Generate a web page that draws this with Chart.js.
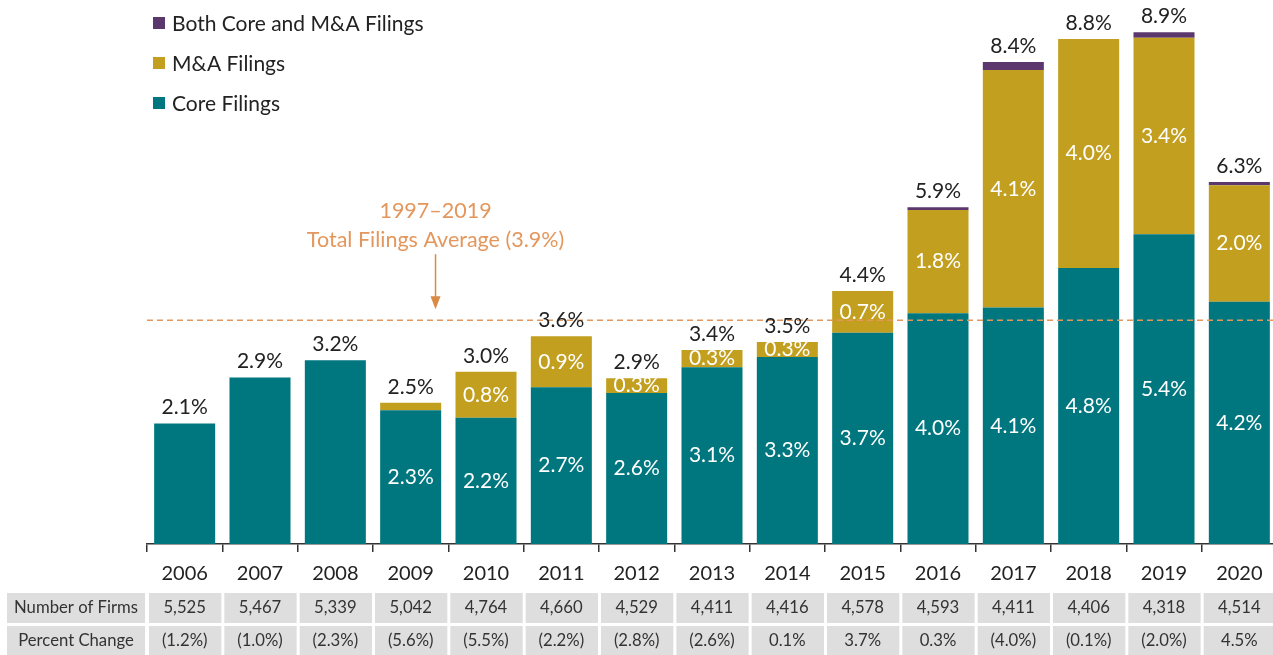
<!DOCTYPE html>
<html>
<head>
<meta charset="utf-8">
<script src="https://cdn.jsdelivr.net/npm/chart.js@4.4.1/dist/chart.umd.min.js"></script>
<style>
  html, body { margin: 0; padding: 0; background: #fff; overflow: hidden; }
  canvas { display: block; }
</style>
</head>
<body>
<canvas id="filingsChart" width="1277" height="655"></canvas>
<script>
// ======================================
// DATA
// ======================================
const years = ['2006', '2007', '2008', '2009', '2010', '2011', '2012', '2013', '2014', '2015', '2016', '2017', '2018', '2019', '2020'];

// Percent of firms with filings, by type
const coreFilings = [2.1, 2.9, 3.2, 2.33, 2.2, 2.73, 2.63, 3.08, 3.26, 3.68, 4.02, 4.12, 4.81, 5.40, 4.22];
const mnaFilings  = [0, 0, 0, 0.13, 0.8, 0.89, 0.26, 0.3, 0.26, 0.73, 1.80, 4.14, 3.99, 3.42, 2.03];
const bothFilings = [0, 0, 0, 0, 0, 0, 0, 0, 0, 0, 0.05, 0.14, 0, 0.10, 0.06];

const numberOfFirms = [5525, 5467, 5339, 5042, 4764, 4660, 4529, 4411, 4416, 4578, 4593, 4411, 4406, 4318, 4514];
const percentChange = [-1.2, -1.0, -2.3, -5.6, -5.5, -2.2, -2.8, -2.6, 0.1, 3.7, 0.3, -4.0, -0.1, -2.0, 4.5];

const averageTotal = 3.9;
const averageLines = ['1997\u20132019', 'Total Filings Average (3.9%)'];

// ======================================
// STYLE
// ======================================
const FONT = 'Lato, "Open Sans", sans-serif';
const COLORS = {
    core: '#00767E',
    mna: '#C29F1F',
    both: '#5B376E',
    average: '#E3975C',
    arrow: '#D98A44',
    text: '#222222',
    cell: '#DEDEDE'
};

function pct(v) {
    return v.toFixed(1) + '%';
}

function pctParen(v) {
    return v < 0 ? '(' + Math.abs(v).toFixed(1) + '%)' : v.toFixed(1) + '%';
}

// ======================================
// PLUGINS
// ======================================
const averageLinePlugin = {
    id: 'averageLine',
    afterDatasetsDraw(chart) {
        const { ctx, chartArea, scales } = chart;
        const y = scales.y.getPixelForValue(averageTotal);
        ctx.save();
        ctx.strokeStyle = COLORS.average;
        ctx.lineWidth = 1.5;
        ctx.setLineDash([6, 4]);
        ctx.beginPath();
        ctx.moveTo(chartArea.left, y);
        ctx.lineTo(chartArea.right, y);
        ctx.stroke();
        ctx.setLineDash([]);

        // note + arrow
        const x = scales.x.getPixelForValue(3.33);
        ctx.fillStyle = COLORS.average;
        ctx.font = '21.5px ' + FONT;
        ctx.textAlign = 'center';
        ctx.textBaseline = 'middle';
        ctx.fillText(averageLines[0], x, y - 109);
        ctx.fillText(averageLines[1], x, y - 80);

        ctx.strokeStyle = COLORS.arrow;
        ctx.fillStyle = COLORS.arrow;
        ctx.lineWidth = 1.5;
        ctx.beginPath();
        ctx.moveTo(x, y - 66);
        ctx.lineTo(x, y - 22);
        ctx.stroke();
        ctx.beginPath();
        ctx.moveTo(x - 5, y - 24);
        ctx.lineTo(x + 5, y - 24);
        ctx.lineTo(x, y - 11);
        ctx.closePath();
        ctx.fill();
        ctx.restore();
    }
};

const barLabelsPlugin = {
    id: 'barLabels',
    afterDatasetsDraw(chart) {
        const { ctx } = chart;
        const coreMeta = chart.getDatasetMeta(0);
        const mnaMeta = chart.getDatasetMeta(1);
        ctx.save();
        ctx.font = '21px ' + FONT;
        ctx.textAlign = 'center';
        ctx.textBaseline = 'middle';

        years.forEach((yr, i) => {
            // segment labels
            ctx.fillStyle = '#ffffff';
            if (mnaFilings[i] > 0) {
                const c = coreMeta.data[i];
                ctx.fillText(pct(coreFilings[i]), c.x, (c.y + c.base) / 2);
            }
            if (mnaFilings[i] >= 0.2) {
                const m = mnaMeta.data[i];
                ctx.fillText(pct(mnaFilings[i]), m.x, (m.y + m.base) / 2);
            }
            // totals
            const total = coreFilings[i] + mnaFilings[i] + bothFilings[i];
            const top = chart.scales.y.getPixelForValue(total);
            ctx.fillStyle = COLORS.text;
            ctx.fillText(pct(total), coreMeta.data[i].x, top - 16);
        });
        ctx.restore();
    }
};

const legendPlugin = {
    id: 'sideLegend',
    afterDraw(chart) {
        const { ctx } = chart;
        const sets = chart.data.datasets.slice().reverse();
        ctx.save();
        ctx.font = '21px ' + FONT;
        ctx.textAlign = 'left';
        ctx.textBaseline = 'middle';
        sets.forEach((ds, k) => {
            const y = 23 + k * 40;
            ctx.fillStyle = ds.backgroundColor;
            ctx.fillRect(153, y - 6, 12, 12);
            ctx.fillStyle = COLORS.text;
            ctx.fillText(ds.label, 172, y + 1);
        });
        ctx.restore();
    }
};

const tablePlugin = {
    id: 'dataTable',
    afterDraw(chart) {
        const { ctx, scales } = chart;
        const xs = scales.x;
        const step = xs.width / years.length;
        const rows = [
            { label: 'Number of Firms', top: 593, bottom: 623, values: numberOfFirms.map(v => v.toLocaleString('en-US')) },
            { label: 'Percent Change', top: 626, bottom: 655, values: percentChange.map(pctParen) }
        ];
        ctx.save();
        ctx.font = '16.7px ' + FONT;
        ctx.textAlign = 'center';
        ctx.textBaseline = 'middle';
        rows.forEach(r => {
            const cy = (r.top + r.bottom) / 2;
            ctx.fillStyle = COLORS.cell;
            ctx.fillRect(7, r.top, xs.left - 9, r.bottom - r.top);
            ctx.fillStyle = '#333';
            ctx.fillText(r.label, (7 + xs.left - 2) / 2, cy);
            r.values.forEach((v, i) => {
                const x0 = xs.left + i * step;
                ctx.fillStyle = COLORS.cell;
                ctx.fillRect(x0 + 2, r.top, step - 3, r.bottom - r.top);
                ctx.fillStyle = '#333';
                ctx.fillText(v, xs.getPixelForValue(i), cy);
            });
        });
        ctx.restore();
    }
};

// ======================================
// CHART
// ======================================
document.addEventListener('DOMContentLoaded', function() {
    const ctx = document.getElementById('filingsChart').getContext('2d');
    new Chart(ctx, {
        type: 'bar',
        data: {
            labels: years,
            datasets: [
                { label: 'Core Filings', data: coreFilings, backgroundColor: COLORS.core },
                { label: 'M&A Filings', data: mnaFilings, backgroundColor: COLORS.mna },
                { label: 'Both Core and M&A Filings', data: bothFilings, backgroundColor: COLORS.both }
            ]
        },
        options: {
            responsive: false,
            animation: false,
            layout: { padding: { left: 147, right: 0, top: 0, bottom: 59 } },
            datasets: { bar: { categoryPercentage: 1, barPercentage: 0.81 } },
            scales: {
                x: {
                    stacked: true,
                    grid: { display: true, drawOnChartArea: false, drawTicks: true, tickLength: 8, color: '#333', lineWidth: 1.5, offset: true },
                    border: { display: true, color: '#333', width: 1.5 },
                    ticks: { color: COLORS.text, padding: 10, font: { family: FONT, size: 20 } }
                },
                y: { stacked: true, display: false, min: 0, max: 9.48 }
            },
            plugins: {
                legend: { display: false },
                tooltip: { enabled: false }
            }
        },
        plugins: [averageLinePlugin, barLabelsPlugin, legendPlugin, tablePlugin]
    });
});
</script>
</body>
</html>
